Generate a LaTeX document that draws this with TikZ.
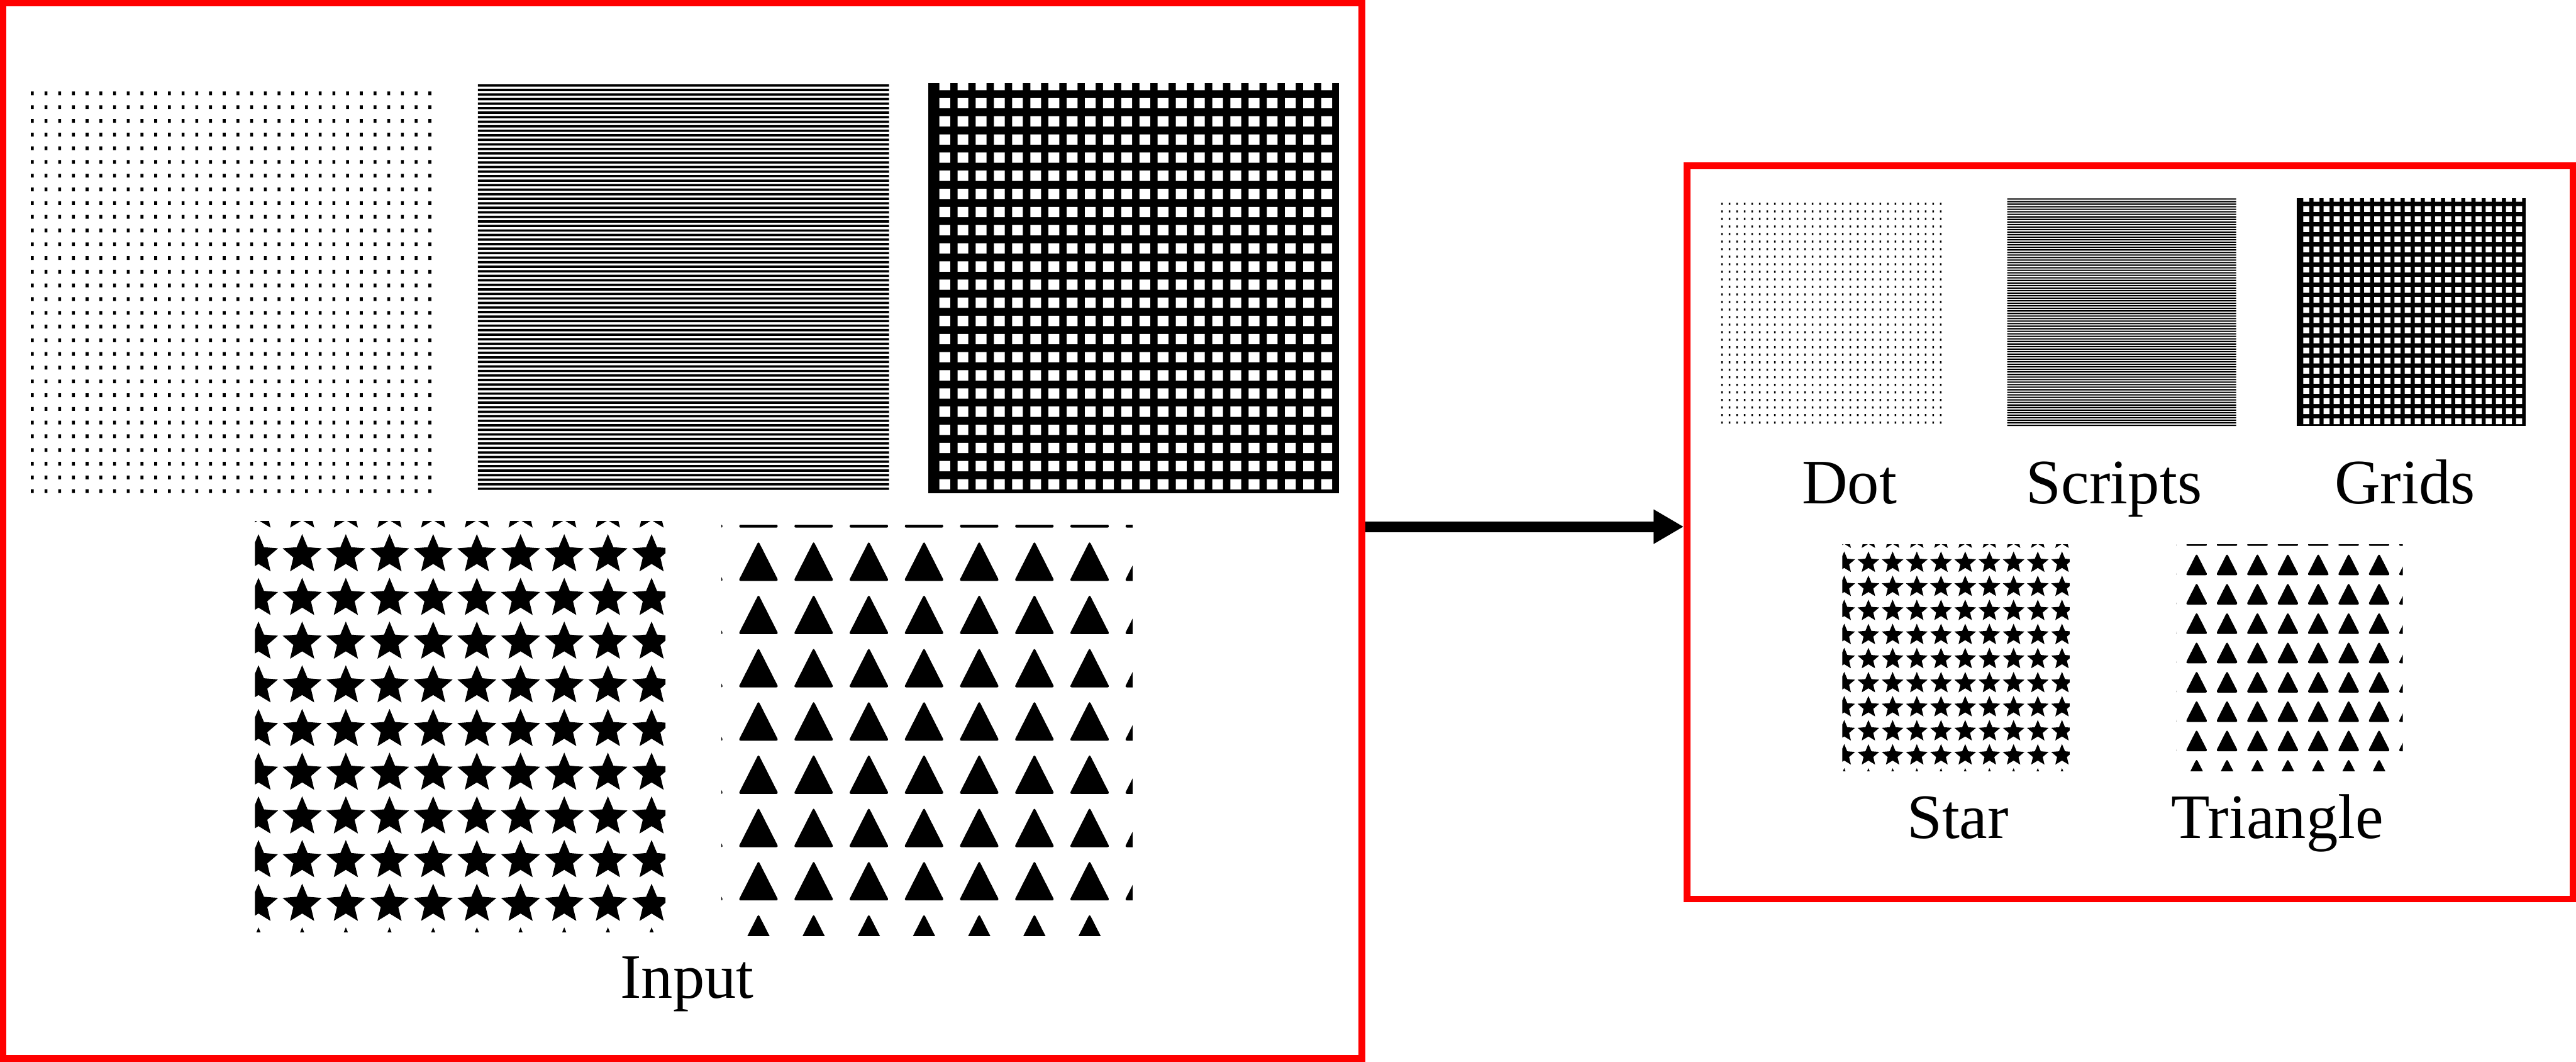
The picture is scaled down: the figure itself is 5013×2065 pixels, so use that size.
\documentclass[tikz,border=0pt]{standalone}
\usepackage{fontspec}
\setmainfont{Liberation Serif}
\usetikzlibrary{arrows.meta}

\tikzset{
  redbox/.style={draw=red, line width=0.13cm, inner sep=0pt, outer sep=0.065cm, rectangle},
  lbl/.style={font=\fontsize{35}{42}\selectfont, inner sep=0pt, anchor=base, text=black},
  flowarrow/.style={line width=0.21cm, black, -{Triangle[length=0.586cm,width=0.63cm]}},
  patfill/.style={fill=black},
}

% patterns in local pixel coordinates (image 800 x 800, origin top-left)
\newcommand\patDots{%
  \fill[patfill] \foreach \i in {0,...,29}{\foreach \j in {0,...,29}{
    ({12+26.68*\i},{12+26.68*\j}) rectangle ++(5.6,7.3)}};}
\newcommand\patLines{%
  \fill[patfill] \foreach \k in {0,...,89}{(0,{8.815*\k}) rectangle (800,{8.815*\k+4.5})};}
\newcommand\patGrid{%
  \fill[patfill] (0,0) rectangle (799,797);
  \begin{scope}
    \clip (0,0) rectangle (799,797);
    \fill[white] \foreach \i in {0,...,21}{\foreach \j in {-1,...,21}{
      ({22+35.4*\i},{28.7+35.3*\j}) rectangle ++(21,20)}};
  \end{scope}}
\newcommand\patStars{%
  \begin{scope}
    \clip (0,0) rectangle (799,799);
    \foreach \i in {0,...,9}{\foreach \j in {-1,...,9}{
      \pgfmathsetmacro\pcx{7+85*\i}
      \pgfmathsetmacro\pcy{65+85*\j}
      \fill[patfill] (\pcx,{\pcy-40}) -- ({\pcx+10.58},{\pcy-14.56}) -- ({\pcx+38.04},{\pcy-12.36})
        -- ({\pcx+17.12},{\pcy+5.56}) -- ({\pcx+23.51},{\pcy+32.36}) -- (\pcx,{\pcy+18})
        -- ({\pcx-23.51},{\pcy+32.36}) -- ({\pcx-17.12},{\pcy+5.56}) -- ({\pcx-38.04},{\pcy-12.36})
        -- ({\pcx-10.58},{\pcy-14.56}) -- cycle;}}
  \end{scope}}
\newcommand\patTris{%
  \begin{scope}
    \clip (0,0) rectangle (800,800);
    \foreach \i in {-1,...,7}{\foreach \j in {-1,...,7}{
      \pgfmathsetmacro\pcx{72+107.4*\i}
      \pgfmathsetmacro\pay{32+103.6*\j}
      \fill[patfill, rounded corners=1.2pt] (\pcx,\pay) -- ({\pcx+39},{\pay+77}) -- ({\pcx-39},{\pay+77}) -- cycle;}}
  \end{scope}}

\begin{document}
\begin{tikzpicture}[x=0.01cm, y=-0.01cm]
  \useasboundingbox (0,0) rectangle (5013,2065);
  \fill[white] (0,0) rectangle (5013,2065);

  % input patterns
  \begin{scope}[shift={(48,166)}]\patDots\end{scope}
  \begin{scope}[shift={(930,164)}]\patLines\end{scope}
  \begin{scope}[shift={(1806,162)}]\patGrid\end{scope}
  \begin{scope}[shift={(496,1014)}]\patStars\end{scope}
  \begin{scope}[shift={(1404,1021)}]\patTris\end{scope}

  % output patterns
  \begin{scope}[shift={(3343,388)}, scale=0.55]\patDots\end{scope}
  \begin{scope}[shift={(3906,386)}, xscale=0.557, yscale=0.561]\patLines\end{scope}
  \begin{scope}[shift={(4470,385)}, scale=0.557]\patGrid\end{scope}
  \begin{scope}[shift={(3585,1059)}, xscale=0.554, yscale=0.551]\patStars\end{scope}
  \begin{scope}[shift={(4235,1059)}, scale=0.551]\patTris\end{scope}

  % boxes
  \node[redbox, minimum width=26.43cm, minimum height=20.52cm] (inbox) at (1328,1032.5) {};
  \node[redbox, minimum width=17.23cm, minimum height=14.26cm] (outbox) at (4145,1035.5) {};

  % arrow
  \coordinate (arry) at (0,1024.5);
  \draw[flowarrow] (inbox.east |- arry) -- (outbox.west |- arry);

  % labels
  \node[lbl] (lInput) at (1337,1942) {Input};
  \node[lbl] (lDot) at (3599,980) {Dot};
  \node[lbl] (lScripts) at (4114,980) {Scripts};
  \node[lbl] (lGrids) at (4680,980) {Grids};
  \node[lbl] (lStar) at (3810,1631) {Star};
  \node[lbl] (lTri) at (4432,1631) {Triangle};
\end{tikzpicture}
\end{document}
